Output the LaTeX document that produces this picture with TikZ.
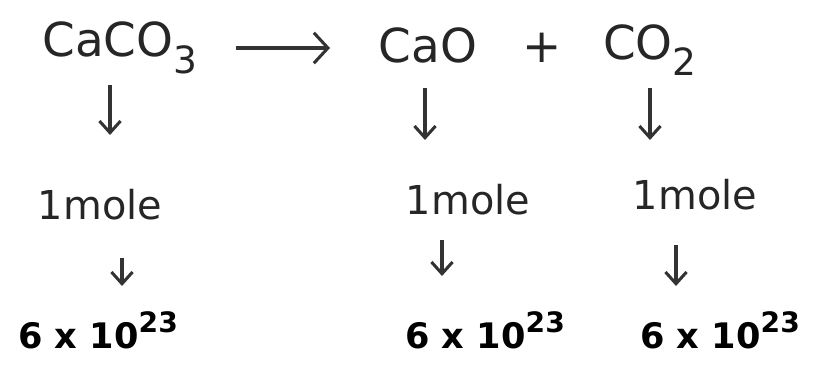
\documentclass[tikz,border=0pt]{standalone}
\usepackage{fontspec}
\setmainfont{DejaVu Sans}
\usetikzlibrary{arrows.meta}
\newcommand{\lowsub}[1]{\raisebox{-0.35em}{\fontsize{32}{36}\selectfont #1}}
\newcommand{\hisup}[1]{\raisebox{0.45em}{\fontsize{24}{28}\selectfont #1}}
\begin{document}
\begin{tikzpicture}[x=0.03cm,y=-0.03cm,
  big/.style={font=\fontsize{40}{46}\selectfont\mdseries, inner sep=0pt, text=black!85},
  mid/.style={font=\fontsize{34}{40}\selectfont, inner sep=0pt, text=black!85},
  num/.style={font=\fontsize{30}{36}\selectfont\bfseries, inner sep=0pt, text=black},
  arr/.style={draw=black!80, line width=2.6pt, -{Straight Barb[length=10pt,width=18pt]}},
  bigarr/.style={draw=black!80, line width=2.6pt, -{Straight Barb[length=12pt,width=26pt]}}]
\useasboundingbox (0,0) rectangle (814,369);
\node[big] (caco3) at (120,48) {CaCO\lowsub{3}};
\node[big] (cao) at (428,45) {CaO};
\node[big] (plus) at (542,48) {+};
\node[big] (co2) at (650,50) {CO\lowsub{2}};
\draw[bigarr] (caco3.east) ++(38,0) coordinate (rs) -- (330,48) coordinate (re);
\coordinate (a1s) at (110,85); \coordinate (a1e) at (110,135);
\coordinate (a2s) at (425,88); \coordinate (a2e) at (425,140);
\coordinate (a3s) at (650,88); \coordinate (a3e) at (650,140);
\draw[arr] (a1s) -- (a1e);
\draw[arr] (a2s) -- (a2e);
\draw[arr] (a3s) -- (a3e);
\node[mid] (m1) at (100,205) {1mole};
\node[mid] (m2) at (468,200) {1mole};
\node[mid] (m3) at (695,195) {1mole};
\coordinate (b1s) at (122,258); \coordinate (b1e) at (122,286);
\coordinate (b2s) at (442,240); \coordinate (b2e) at (442,276);
\coordinate (b3s) at (676,245); \coordinate (b3e) at (676,286);
\draw[arr] (b1s) -- (b1e);
\draw[arr] (b2s) -- (b2e);
\draw[arr] (b3s) -- (b3e);
\node[num] (n1) at (98,330) {6 x 10\hisup{23}};
\node[num] (n2) at (485,330) {6 x 10\hisup{23}};
\node[num] (n3) at (720,330) {6 x 10\hisup{23}};
\end{tikzpicture}
\end{document}
